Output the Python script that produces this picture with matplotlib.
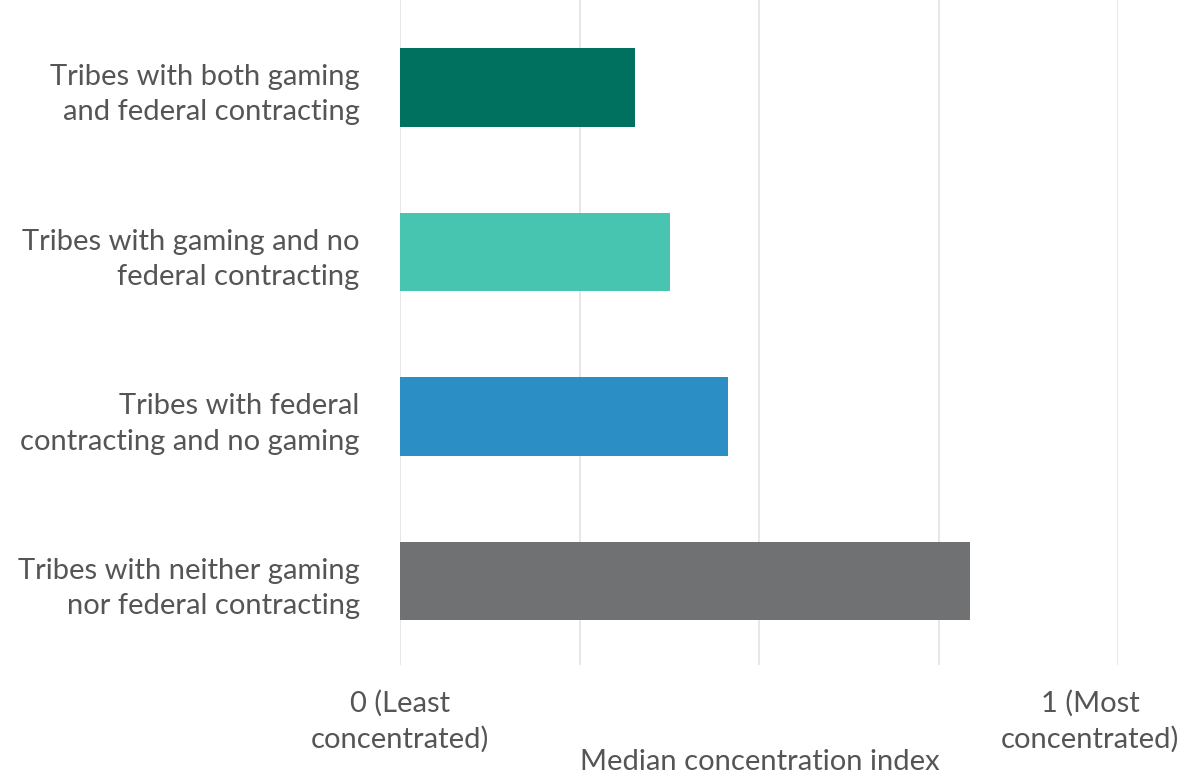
import matplotlib.pyplot as plt

# --- data ---
categories = [
    "Tribes with both gaming\nand federal contracting",
    "Tribes with gaming and no\nfederal contracting",
    "Tribes with federal\ncontracting and no gaming",
    "Tribes with neither gaming\nnor federal contracting",
]
values = [0.327, 0.376, 0.457, 0.794]
colors = ["#00715f", "#48c5b0", "#2b8fc6", "#707173"]
grid_ticks = [0, 0.25, 0.5, 0.75, 1.0]

plt.rcParams['font.family'] = ['Lato', 'DejaVu Sans']
text_color = "#555555"
fs = 21

fig = plt.figure(figsize=(11.79, 7.78), dpi=100)
ax = fig.add_axes([400 / 1179, 1 - 665 / 778, 718 / 1179, 665 / 778])

ypos = list(range(len(categories)))
ax.barh(ypos, values, height=0.475, color=colors, zorder=3)

ax.set_xlim(0, 1)
ax.set_ylim(3.51, -0.532)
ax.set_xticks(grid_ticks)
ax.set_xticklabels([])
ax.tick_params(axis='x', length=0)
ax.grid(axis='x', color="#e3e3e3", linewidth=1.2, zorder=0)
ax.set_yticks(ypos)
ax.set_yticklabels(categories, fontsize=fs, color=text_color, linespacing=1.45)
ax.tick_params(axis='y', length=0, pad=29)
for s in ax.spines.values():
    s.set_visible(False)

# end labels of the x axis
ax.text(0, -0.038, "0 (Least\nconcentrated)", transform=ax.get_xaxis_transform(),
        ha='center', va='top', fontsize=fs, color=text_color, linespacing=1.4)
ax.text(0.961, -0.038, "1 (Most\nconcentrated)", transform=ax.get_xaxis_transform(),
        ha='center', va='top', fontsize=fs, color=text_color, linespacing=1.4)
fig.text(760 / 1179, 1 - 762 / 778, "Median concentration index", ha='center', va='center',
         fontsize=fs, color=text_color)

fig.savefig("out.png", dpi=100)
